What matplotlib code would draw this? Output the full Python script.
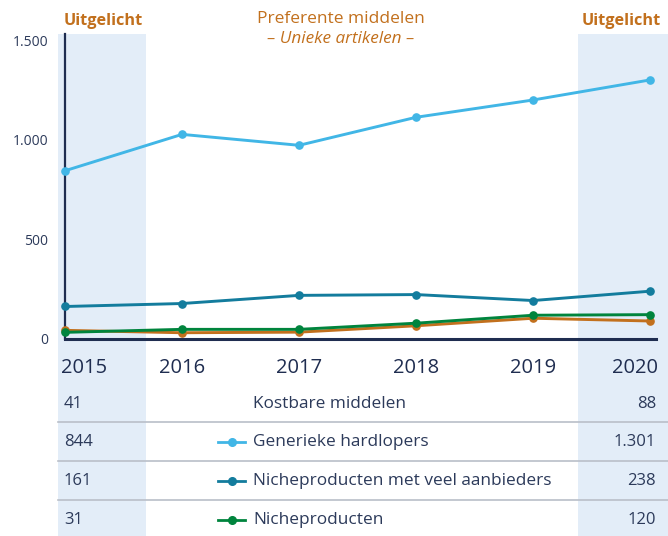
import matplotlib
matplotlib.use("Agg")
import matplotlib.pyplot as plt
from matplotlib.patches import Rectangle
from matplotlib.lines import Line2D

plt.rcParams['font.family'] = ['Open Sans', 'DejaVu Sans']

years = [2015, 2016, 2017, 2018, 2019, 2020]
year_labels = ["2015", "2016", "2017", "2018", "2019", "2020"]
series_names = ["Kostbare middelen", "Generieke hardlopers",
                "Nicheproducten met veel aanbieders", "Nicheproducten"]
kostbare = [41, 29, 32, 64, 102, 88]
generiek = [844, 1027, 972, 1113, 1200, 1301]
niche_veel = [161, 176, 217, 221, 191, 238]
niche = [31, 46, 46, 77, 117, 120]
first_labels = ["41", "844", "161", "31"]
last_labels = ["88", "1.301", "238", "120"]
yticks = [0, 500, 1000, 1500]
ytick_labels = ["0", "500", "1.000", "1.500"]

C_LIGHT = "#41b6e6"
C_TEAL = "#137c9d"
C_GREEN = "#00843d"
C_ORANGE = "#c2701d"
C_BAND = "#e3edf8"
C_NAVY = "#1f2d50"
C_TEXT = "#2c3a5a"
C_SEP = "#b9bfc8"

W, H = 668, 536
fig = plt.figure(figsize=(W / 100, H / 100), dpi=100)

def fx(px):
    return px / W

def fy(py):
    return 1 - py / H

# highlight bands
for x0, x1 in [(58, 146), (578, 668)]:
    fig.add_artist(Rectangle((fx(x0), fy(536)), fx(x1) - fx(x0), fy(34) - fy(536),
                             transform=fig.transFigure, facecolor=C_BAND,
                             edgecolor="none", zorder=0))

left, right, top, bottom = 65, 656, 34, 338.5
ax = fig.add_axes([fx(left), fy(bottom), fx(right) - fx(left), fy(top) - fy(bottom)])
ax.patch.set_alpha(0)
ax.set_zorder(2)

lines = [(kostbare, C_ORANGE), (generiek, C_LIGHT), (niche_veel, C_TEAL), (niche, C_GREEN)]
for vals, col in lines:
    ax.plot(years, vals, color=col, lw=2.1, marker="o", ms=5.2, clip_on=False, zorder=3)

ax.set_xlim(2015, 2020.05)
ax.set_ylim(0, 1532)
ax.set_yticks(yticks)
ax.set_yticklabels(ytick_labels, fontsize=10, color=C_TEXT)
ax.tick_params(axis="y", length=0, pad=12)
ax.set_xticks([])
for s in ["top", "right"]:
    ax.spines[s].set_visible(False)
ax.spines["left"].set_color(C_NAVY)
ax.spines["left"].set_linewidth(1.6)
ax.spines["bottom"].set_color(C_NAVY)
ax.spines["bottom"].set_linewidth(2.2)

# year labels
for i, (yr, lab) in enumerate(zip(years, year_labels)):
    xpx = left + (yr - 2015) / 5.05 * (right - left)
    ha = "center"
    if i == 0:
        ha = "left"
        xpx = 61
    elif i == len(years) - 1:
        ha = "right"
        xpx = 658
    fig.text(fx(xpx), fy(368), lab, ha=ha, va="center", fontsize=14.5, color=C_NAVY)

# headers
fig.text(fx(103), fy(21), "Uitgelicht", ha="center", va="center", fontsize=11.7,
         fontweight="bold", color=C_ORANGE)
fig.text(fx(621), fy(21), "Uitgelicht", ha="center", va="center", fontsize=11.7,
         fontweight="bold", color=C_ORANGE)
fig.text(fx(341), fy(19), "Preferente middelen", ha="center", va="center",
         fontsize=12.5, color=C_ORANGE)
fig.text(fx(341), fy(39), "– Unieke artikelen –", ha="center", va="center",
         fontsize=12.3, style="italic", color=C_ORANGE)

# table
row_y = [404, 442, 481, 520]
row_colors = [None, C_LIGHT, C_TEAL, C_GREEN]
for yy in [422, 461, 500]:
    fig.add_artist(Line2D([fx(58), fx(668)], [fy(yy), fy(yy)], transform=fig.transFigure,
                          color=C_SEP, lw=1.2, zorder=1))
for ry, name, fl, ll, col in zip(row_y, series_names, first_labels, last_labels, row_colors):
    fig.text(fx(64), fy(ry), fl, ha="left", va="center", fontsize=12, color=C_TEXT)
    fig.text(fx(656), fy(ry), ll, ha="right", va="center", fontsize=12, color=C_TEXT)
    fig.text(fx(253), fy(ry), name, ha="left", va="center", fontsize=12.4, color=C_TEXT)
    if col is not None:
        fig.add_artist(Line2D([fx(218), fx(245)], [fy(ry), fy(ry)], transform=fig.transFigure,
                              color=col, lw=2.0, marker=None, zorder=3))
        fig.add_artist(Line2D([fx(231.5)], [fy(ry)], transform=fig.transFigure,
                              color=col, marker="o", ms=5.5, lw=0, zorder=4))

fig.savefig("out.png", dpi=100)
